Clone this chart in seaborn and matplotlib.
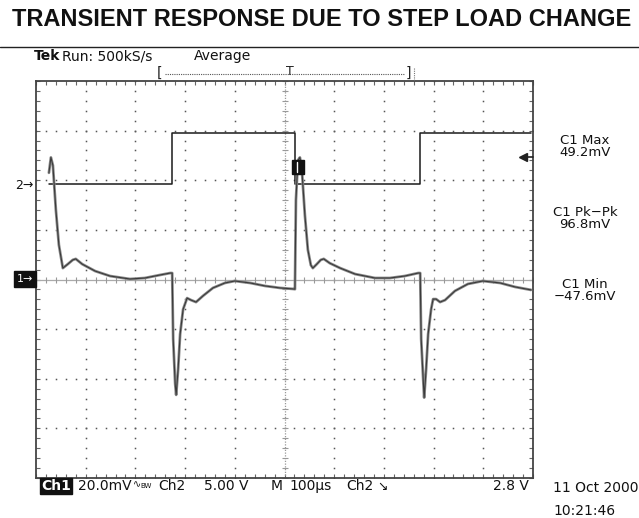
import numpy as np
import pandas as pd
import matplotlib
matplotlib.use("Agg")
import matplotlib.pyplot as plt
import matplotlib.patheffects as pe
import seaborn as sns

# =========================
# SCOPE SETTINGS
# =========================
ch1_mv_per_div = 20.0
ch2_v_per_div = 5.0
ch2_position = 1.9        # divisions above centre
us_per_div = 100.0
trigger_level = 2.8       # V on ch2

# =========================
# TRACES
# =========================
ch1_time = [26, 30, 34, 40, 46, 54, 64, 74, 80, 93, 119, 149, 189, 219, 249, 270, 274,
            276, 280, 282, 286, 290, 296, 304, 312, 322, 336, 356, 380, 400, 431, 461, 491, 517,
            521, 523, 527, 531, 535, 541, 547, 553, 557, 565, 573, 579, 591, 612, 642, 682,
            712, 742, 769, 773,
            775, 779, 781, 785, 789, 795, 799, 805, 813, 823, 843, 869, 899, 934, 964, 996]
ch1_mv = [43, 49.2, 46, 28, 14, 4.6, 6.2, 7.9, 8.3, 6.2, 3.4, 1.4, 0.2, 0.6, 1.8, 2.6, 2.6,
          -24, -42, -46.5, -36, -22, -12, -7.5, -8.3, -9.1, -6.6, -3.4, -1.4, -0.6, -1.4, -2.6, -3.4, -3.8,
          -3.9, 32, 48, 49.2, 44, 26, 12, 5.8, 4.6, 6.2, 7.9, 8.3, 6.6, 4.6, 2.2, 0.6,
          0.6, 1.4, 2.6, 2.6,
          -24, -40, -47.6, -36, -22, -12, -7.9, -7.9, -9.1, -8.3, -4.6, -1.8, -0.6, -1.4, -3.0, -4.2]

ch2_time = [26, 274, 521, 773, 996]
ch2_volts = [0.1, 5.3, 0.1, 5.3, 5.3]

# readouts
meas_labels = ["C1 Max", "C1 Pk\u2212Pk", "C1 Min"]
meas_values = ["49.2mV", "96.8mV", "\u221247.6mV"]

# =========================
# DATAFRAMES IN SCREEN DIVISIONS
# =========================
df1 = pd.DataFrame({
    "x": np.array(ch1_time) / us_per_div,
    "y": np.array(ch1_mv) / ch1_mv_per_div
})
df2 = pd.DataFrame({
    "x": np.array(ch2_time) / us_per_div,
    "y": ch2_position + np.array(ch2_volts) / ch2_v_per_div
})

# =========================
# FIGURE
# =========================
sns.set_theme(style="white")
plt.rcParams["font.family"] = ["DejaVu Sans"]

W, H = 639, 518
fig = plt.figure(figsize=(W / 100, H / 100), dpi=100)


def px(x, y):
    return x / W, 1 - y / H


ax = fig.add_axes([36 / W, 1 - 478 / H, 497 / W, 397 / H])
ax.set_xlim(0, 10)
ax.set_ylim(-4, 4)

# graticule
minor = np.arange(0, 10.001, 0.2)
vminor = np.arange(-4, 4.001, 0.2)
for k in [1, 2, 3, 4, 6, 7, 8, 9]:
    ax.plot(np.full_like(vminor, k), vminor, ls="none", marker="s",
            ms=1.1, mew=0, color="#555555", zorder=1)
for k in [-3, -2, -1, 1, 2, 3]:
    ax.plot(minor, np.full_like(minor, k), ls="none", marker="s",
            ms=1.1, mew=0, color="#555555", zorder=1)

# centre cross with tick marks
ax.axhline(0, color="#aaaaaa", lw=0.9, zorder=1)
ax.plot(minor, np.zeros_like(minor), ls="none", marker="|", ms=5,
        mew=0.8, color="#999999", zorder=1)
ax.axvline(5, color="#999999", lw=0.9, ls=(0, (1, 1.2)), zorder=1)
ax.plot(np.full_like(vminor, 5), vminor, ls="none", marker="_", ms=5,
        mew=0.8, color="#999999", zorder=1)

ax.set_xticks(np.arange(0, 11, 1))
ax.set_yticks(np.arange(-4, 5, 1))
ax.set_xticks(minor, minor=True)
ax.set_yticks(vminor, minor=True)
ax.tick_params(which="both", direction="in", length=3, width=0.8,
               color="#666666", top=True, right=True, bottom=True, left=True,
               labelbottom=False, labelleft=False)
for s in ax.spines.values():
    s.set_color("#444444")
    s.set_linewidth(1.3)
ax.set_xlabel("")
ax.set_ylabel("")

# traces
sns.lineplot(data=df2, x="x", y="y", ax=ax, color="#1a1a1a", lw=1.1,
             drawstyle="steps-post", estimator=None, sort=False, zorder=3)
sns.lineplot(data=df1, x="x", y="y", ax=ax, color="#3a3a3a", lw=0.8,
             estimator=None, sort=False, zorder=4,
             path_effects=[pe.Stroke(linewidth=2.0, foreground="#8c8c8c"), pe.Normal()])

# trigger level arrow on right edge
trig_y = ch2_position + trigger_level / ch2_v_per_div
ax.plot([9.8], [trig_y], marker="<", ms=6, color="#222222", clip_on=False, zorder=5)
ax.plot([9.8, 10], [trig_y, trig_y], color="#222222", lw=1.2, clip_on=False, zorder=5)

# trigger marker box
ax.add_patch(plt.Rectangle((5.15, 2.13), 0.24, 0.27, color="#111111", zorder=6))
ax.plot([5.26, 5.26], [2.16, 2.37], color="white", lw=1.0, zorder=7)

# =========================
# TEXT
# =========================
fig.text(*px(322, 19), "TRANSIENT RESPONSE DUE TO STEP LOAD CHANGE",
         family="Liberation Sans", weight="bold", fontsize=17,
         ha="center", va="center", color="#111111")
fig.add_artist(plt.Line2D([0, 1], [1 - 47 / H, 1 - 47 / H], color="#222222", lw=1.0))

fig.text(*px(34, 56), "Tek", weight="bold", fontsize=10, va="center", color="#111111")
fig.text(*px(62, 56), "Run: 500kS/s", fontsize=10, va="center", color="#111111")
fig.text(*px(194, 56), "Average", fontsize=10, va="center", color="#111111")

# record window bracket
fig.text(*px(160, 73), "[", fontsize=10, ha="center", va="center", color="#222222")
fig.text(*px(408, 73), "]", fontsize=10, ha="center", va="center", color="#222222")
fig.add_artist(plt.Line2D([165 / W, 404 / W], [1 - 74 / H, 1 - 74 / H],
                          color="#555555", lw=0.8, ls=(0, (1, 1))))
fig.text(*px(290, 72), "T", fontsize=9, ha="center", va="center", color="#222222")
fig.add_artist(plt.Line2D([414 / W, 414 / W], [1 - 68 / H, 1 - 80 / H],
                          color="#777777", lw=0.8, ls=(0, (1, 1))))

# channel markers
fig.text(*px(34, 185), "2\u2192", fontsize=9, ha="right", va="center", color="#111111")
fig.text(*px(25, 279), "1\u2192", fontsize=8, ha="center", va="center", color="white",
         bbox=dict(boxstyle="square,pad=0.25", fc="#111111", ec="#111111"))

# measurements
meas_y = [141, 212, 284]
for lab, val, yy in zip(meas_labels, meas_values, meas_y):
    fig.text(*px(585, yy), lab, fontsize=9.5, ha="center", va="center", color="#111111")
    fig.text(*px(585, yy + 12), val, fontsize=9.5, ha="center", va="center", color="#111111")

# bottom status line
by = 486
fig.text(*px(41, by), "Ch1", fontsize=10, weight="bold", va="center", color="white",
         bbox=dict(boxstyle="square,pad=0.1", fc="#111111", ec="#111111"))
fig.text(*px(78, by), "20.0mV", fontsize=10, va="center", color="#111111")
fig.text(*px(133, by - 2), "\u223f", fontsize=7, va="center", color="#111111")
fig.text(*px(140, by), "BW", fontsize=5, va="center", color="#111111")
fig.text(*px(158, by), "Ch2", fontsize=10, va="center", color="#111111")
fig.text(*px(204, by), "5.00 V", fontsize=10, va="center", color="#111111")
fig.text(*px(271, by), "M", fontsize=10, va="center", color="#111111")
fig.text(*px(289, by), "100\u00b5s", fontsize=10, va="center", color="#111111")
fig.text(*px(346, by), "Ch2", fontsize=10, va="center", color="#111111")
fig.text(*px(377, by), "\u2198", fontsize=9, va="center", color="#111111")
fig.text(*px(529, by), "2.8 V", fontsize=10, ha="right", va="center", color="#111111")
fig.text(*px(553, by + 2), "11 Oct 2000", fontsize=10, va="center", color="#111111")
fig.text(*px(553, by + 25), "10:21:46", fontsize=10, va="center", color="#111111")

fig.savefig("out.png", dpi=100, facecolor="white")
